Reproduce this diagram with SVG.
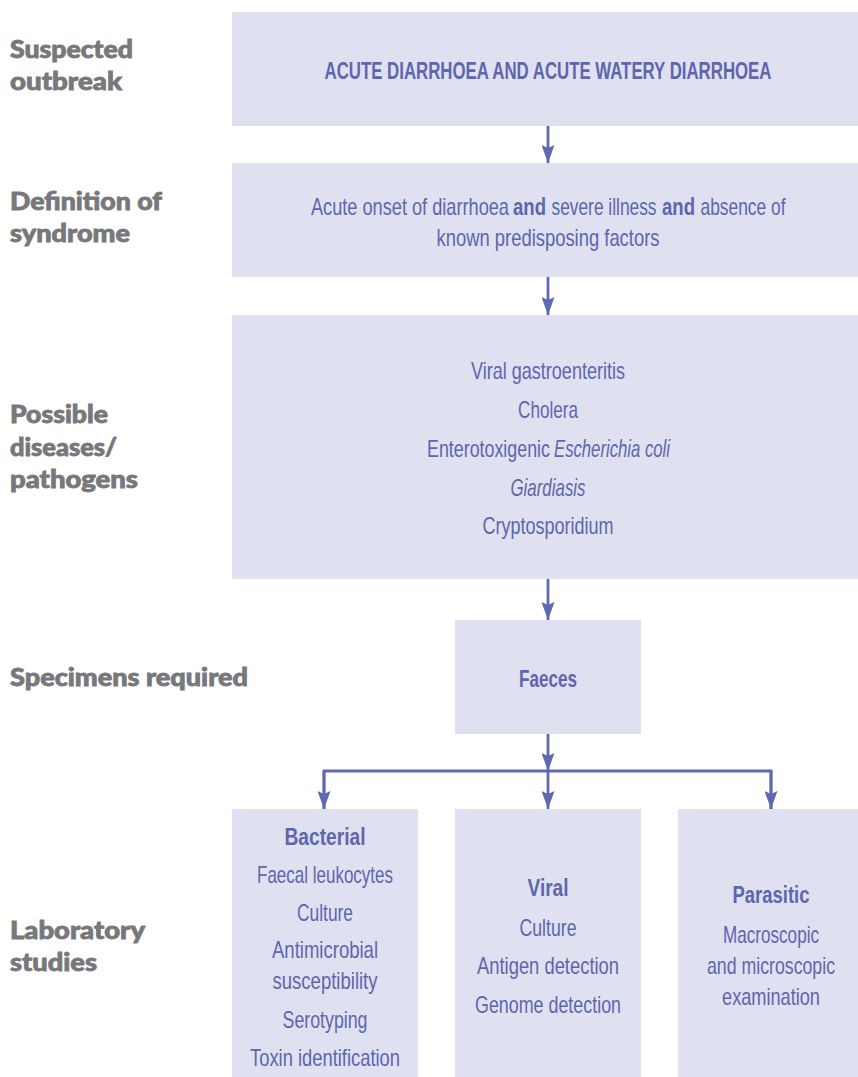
<svg xmlns="http://www.w3.org/2000/svg" width="858" height="1077" viewBox="0 0 858 1077">
  <style>
    .box { fill: #dfe1f0; }
    .side { font-family: Lato, "Open Sans", sans-serif; font-weight: 900; font-size: 24px; fill: #77787b; stroke: #77787b; stroke-width: 0.8; }
    .txt { font-family: "Liberation Sans", Arial, sans-serif; font-size: 23px; fill: #5d66ae; text-anchor: middle; }
    .seg { font-family: "Liberation Sans", Arial, sans-serif; font-size: 23px; fill: #5d66ae; text-anchor: start; }
    .b { font-weight: bold; }
    .i { font-style: italic; }
    .link { fill: none; stroke: #5f68b2; stroke-width: 2.8; }
  </style>
  <defs>
    <marker id="head" viewBox="0 0 18 13" markerWidth="18" markerHeight="13" refX="18" refY="6.5" orient="auto" markerUnits="userSpaceOnUse">
      <path d="M0,0 L18,6.5 L0,13 L3,6.5 Z" fill="#5f68b2"/>
    </marker>
  </defs>

  <!-- row labels -->
  <g id="row-labels">
    <text class="side" x="10" y="58" textLength="123" lengthAdjust="spacingAndGlyphs">Suspected</text>
    <text class="side" x="10" y="90" textLength="112" lengthAdjust="spacingAndGlyphs">outbreak</text>
    <text class="side" x="10" y="210" textLength="152" lengthAdjust="spacingAndGlyphs">Definition of</text>
    <text class="side" x="10" y="242" textLength="120" lengthAdjust="spacingAndGlyphs">syndrome</text>
    <text class="side" x="10" y="423" textLength="98" lengthAdjust="spacingAndGlyphs">Possible</text>
    <text class="side" x="10" y="456" textLength="107" lengthAdjust="spacingAndGlyphs">diseases/</text>
    <text class="side" x="10" y="488" textLength="128" lengthAdjust="spacingAndGlyphs">pathogens</text>
    <text class="side" x="10" y="686" textLength="238" lengthAdjust="spacingAndGlyphs">Specimens required</text>
    <text class="side" x="10" y="939" textLength="135" lengthAdjust="spacingAndGlyphs">Laboratory</text>
    <text class="side" x="10" y="971" textLength="87" lengthAdjust="spacingAndGlyphs">studies</text>
  </g>

  <!-- box texts are set in a condensed cut: scale(0.76,1) about each anchor -->
  <g id="outbreak">
    <rect class="box" x="232" y="12" width="626" height="114"/>
    <text class="txt b" transform="translate(548,79) scale(0.76,1)" textLength="588" lengthAdjust="spacingAndGlyphs">ACUTE DIARRHOEA AND ACUTE WATERY DIARRHOEA</text>
  </g>

  <g id="definition">
    <rect class="box" x="232" y="163" width="626" height="114"/>
    <text class="seg" transform="translate(311,215) scale(0.76,1)" textLength="260.5" lengthAdjust="spacingAndGlyphs">Acute onset of diarrhoea</text>
    <text class="seg b" transform="translate(513,215) scale(0.76,1)" textLength="43.4" lengthAdjust="spacingAndGlyphs">and</text>
    <text class="seg" transform="translate(551.5,215) scale(0.76,1)" textLength="138.2" lengthAdjust="spacingAndGlyphs">severe illness</text>
    <text class="seg b" transform="translate(662,215) scale(0.76,1)" textLength="43.4" lengthAdjust="spacingAndGlyphs">and</text>
    <text class="seg" transform="translate(700.5,215) scale(0.76,1)" textLength="111.8" lengthAdjust="spacingAndGlyphs">absence of</text>
    <text class="txt" transform="translate(548,246) scale(0.76,1)" textLength="293.4" lengthAdjust="spacingAndGlyphs">known predisposing factors</text>
  </g>

  <g id="pathogens">
    <rect class="box" x="232" y="315" width="626" height="264"/>
    <text class="txt" transform="translate(548,379) scale(0.76,1)" textLength="202.6" lengthAdjust="spacingAndGlyphs">Viral gastroenteritis</text>
    <text class="txt" transform="translate(548,418) scale(0.76,1)" textLength="78.9" lengthAdjust="spacingAndGlyphs">Cholera</text>
    <text class="seg" transform="translate(427,457) scale(0.76,1)" textLength="161.8" lengthAdjust="spacingAndGlyphs">Enterotoxigenic</text>
    <text class="seg i" transform="translate(554,457) scale(0.76,1)" textLength="152.6" lengthAdjust="spacingAndGlyphs">Escherichia coli</text>
    <text class="txt i" transform="translate(548,496) scale(0.76,1)" textLength="98.7" lengthAdjust="spacingAndGlyphs">Giardiasis</text>
    <text class="txt" transform="translate(548,534) scale(0.76,1)" textLength="172.4" lengthAdjust="spacingAndGlyphs">Cryptosporidium</text>
  </g>

  <g id="faeces">
    <rect class="box" x="455" y="620" width="186" height="114"/>
    <text class="txt b" transform="translate(548,687) scale(0.76,1)" textLength="76.3" lengthAdjust="spacingAndGlyphs">Faeces</text>
  </g>

  <g id="bacterial">
    <rect class="box" x="232" y="809" width="186" height="268"/>
    <text class="txt b" transform="translate(325,845) scale(0.76,1)" textLength="106.6" lengthAdjust="spacingAndGlyphs">Bacterial</text>
    <text class="txt" transform="translate(325,883) scale(0.76,1)" textLength="178.9" lengthAdjust="spacingAndGlyphs">Faecal leukocytes</text>
    <text class="txt" transform="translate(325,921) scale(0.76,1)" textLength="73.7" lengthAdjust="spacingAndGlyphs">Culture</text>
    <text class="txt" transform="translate(325,958) scale(0.76,1)" textLength="139.5" lengthAdjust="spacingAndGlyphs">Antimicrobial</text>
    <text class="txt" transform="translate(325,989) scale(0.76,1)" textLength="138.2" lengthAdjust="spacingAndGlyphs">susceptibility</text>
    <text class="txt" transform="translate(325,1028) scale(0.76,1)" textLength="111.8" lengthAdjust="spacingAndGlyphs">Serotyping</text>
    <text class="txt" transform="translate(325,1066) scale(0.76,1)" textLength="197.4" lengthAdjust="spacingAndGlyphs">Toxin identification</text>
  </g>

  <g id="viral">
    <rect class="box" x="455" y="809" width="186" height="268"/>
    <text class="txt b" transform="translate(548,896) scale(0.76,1)" textLength="53.9" lengthAdjust="spacingAndGlyphs">Viral</text>
    <text class="txt" transform="translate(548,936) scale(0.76,1)" textLength="75" lengthAdjust="spacingAndGlyphs">Culture</text>
    <text class="txt" transform="translate(548,974) scale(0.76,1)" textLength="186.8" lengthAdjust="spacingAndGlyphs">Antigen detection</text>
    <text class="txt" transform="translate(548,1013) scale(0.76,1)" textLength="192.1" lengthAdjust="spacingAndGlyphs">Genome detection</text>
  </g>

  <g id="parasitic">
    <rect class="box" x="678" y="809" width="180" height="268"/>
    <text class="txt b" transform="translate(771,903) scale(0.76,1)" textLength="101.3" lengthAdjust="spacingAndGlyphs">Parasitic</text>
    <text class="txt" transform="translate(771,943) scale(0.76,1)" textLength="126.3" lengthAdjust="spacingAndGlyphs">Macroscopic</text>
    <text class="txt" transform="translate(771,974) scale(0.76,1)" textLength="168.4" lengthAdjust="spacingAndGlyphs">and microscopic</text>
    <text class="txt" transform="translate(771,1005) scale(0.76,1)" textLength="128.9" lengthAdjust="spacingAndGlyphs">examination</text>
  </g>

  <!-- connectors -->
  <g id="connectors">
    <path class="link" d="M548,126 V163" marker-end="url(#head)"/>
    <path class="link" d="M548,277 V315" marker-end="url(#head)"/>
    <path class="link" d="M548,579 V620" marker-end="url(#head)"/>
    <path class="link" d="M548,734 V771" marker-end="url(#head)"/>
    <path class="link" d="M324,809 V771 H771 V809" stroke-linejoin="miter"/>
    <path class="link" d="M324,771 V809" marker-end="url(#head)"/>
    <path class="link" d="M548,771 V809" marker-end="url(#head)"/>
    <path class="link" d="M771,771 V809" marker-end="url(#head)"/>
  </g>
</svg>
